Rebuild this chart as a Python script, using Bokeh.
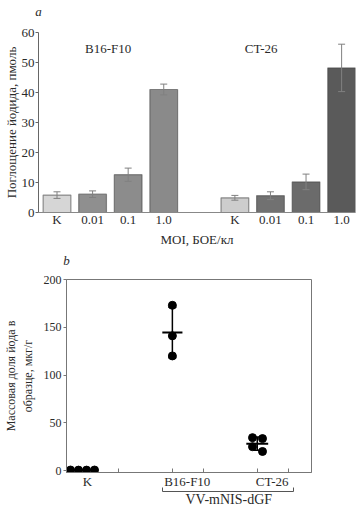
from bokeh.plotting import figure
from bokeh.models import (ColumnDataSource, FixedTicker, Whisker, TeeHead, Label,
                          Range1d, LinearAxis, Title)
from bokeh.embed import file_html
from bokeh.resources import INLINE

# ---------------- data: panel a ----------------
moi_labels = ["K", "0.01", "0.1", "1.0"]
b16_uptake = [5.8, 6.1, 12.6, 41.0]
b16_err = [1.1, 1.1, 2.2, 1.8]
ct26_uptake = [4.9, 5.6, 10.2, 48.2]
ct26_err = [0.8, 1.3, 2.6, 7.9]
cell_lines = ["B16-F10", "CT-26"]

# ---------------- data: panel b ----------------
groups_b = ["K", "B16-F10", "CT-26"]
k_iodine = [0.6, 0.5, 0.5, 0.6]
b16_iodine = [173, 141, 120]
ct26_iodine = [34.5, 33.5, 25, 20]
mean_iodine = [0.5, 144.5, 28.2]
sd_iodine = [0.1, 26.5, 7.0]
bracket_label = "VV-mNIS-dGF"
panel_letters = ["a", "b"]

FONT = "Liberation Serif"
TXT = "#2a2a2a"


def letter_axis(pos, letter, standoff):
    """Invisible axis above the frame carrying the panel letter as its only label."""
    return LinearAxis(ticker=FixedTicker(ticks=[pos], minor_ticks=[]),
                      major_label_overrides={pos: letter},
                      major_label_text_font=FONT, major_label_text_font_size="13px",
                      major_label_text_font_style="italic",
                      major_label_text_color=TXT,
                      major_label_standoff=standoff,
                      major_tick_in=0, major_tick_out=0,
                      minor_tick_in=0, minor_tick_out=0,
                      major_tick_line_color=None, minor_tick_line_color=None,
                      axis_line_color=None)


# ---------------- panel a ----------------
pos_b16 = [0, 1, 2, 3]
pos_ct = [5, 6, 7, 8]
colors_b16 = ["#d6d6d6", "#8f8f8f", "#8c8c8c", "#8a8a8a"]
colors_ct = ["#cdcdcd", "#717171", "#6b6b6b", "#5a5a5a"]

xs = pos_b16 + pos_ct
tops = b16_uptake + ct26_uptake
errs = b16_err + ct26_err
src_a = ColumnDataSource(dict(
    x=xs, top=tops,
    upper=[t + e for t, e in zip(tops, errs)],
    lower=[t - e for t, e in zip(tops, errs)],
    color=colors_b16 + colors_ct,
))

xa0, xa1 = -0.52, 8.39
pa = figure(frame_width=317, frame_height=180,
            x_range=Range1d(xa0, xa1), y_range=Range1d(0, 60),
            output_backend="svg", toolbar_location=None,
            min_border_left=36, min_border_right=2, min_border_top=30,
            min_border_bottom=30)
pa.outline_line_color = None
pa.xgrid.visible = False
pa.ygrid.visible = False

pa.vbar(x="x", top="top", width=0.78, fill_color="color",
        line_color="#3f3f3f", line_alpha=0.55, line_width=1.2, source=src_a)
pa.add_layout(Whisker(base="x", upper="upper", lower="lower", source=src_a,
                      line_color="#808080", line_width=1, level="overlay",
                      upper_head=TeeHead(size=7, line_color="#808080", line_width=1),
                      lower_head=TeeHead(size=7, line_color="#808080", line_width=1)))

ya = pa.yaxis[0]
ya.ticker = FixedTicker(ticks=[0, 10, 20, 30, 40, 50, 60])
ya.minor_tick_line_color = None
ya.major_tick_out = 3
ya.major_tick_in = 0
ya.major_label_standoff = 1
ya.axis_line_color = "#666666"
ya.major_tick_line_color = "#666666"
ya.axis_label = "Поглощение йодида, пмоль"
ya.axis_label_standoff = 0

xa = pa.xaxis[0]
xa.ticker = FixedTicker(ticks=xs)
xa.major_label_overrides = {p: l for p, l in zip(xs, moi_labels + moi_labels)}
xa.major_tick_out = 0
xa.major_tick_in = 0
xa.minor_tick_line_color = None
xa.axis_line_color = "#888888"
xa.major_label_standoff = -1
xa.axis_label = "MOI, БОЕ/кл"
xa.axis_label_standoff = 2

for ax in (xa, ya):
    ax.major_label_text_font = FONT
    ax.major_label_text_font_size = "13px"
    ax.major_label_text_color = TXT
    ax.axis_label_text_font = FONT
    ax.axis_label_text_font_size = "13px"
    ax.axis_label_text_font_style = "normal"
    ax.axis_label_text_color = TXT

for name, xc in zip(cell_lines, [1.44, 5.74]):
    pa.add_layout(Label(x=xc, y=54.7, text=name, text_font=FONT, text_font_size="13px",
                        text_align="center", text_baseline="middle", text_color=TXT))

pa.add_layout(letter_axis(xa0, panel_letters[0], 14), "above")

# ---------------- panel b ----------------
xb0, xb1 = 0.82, 3.62
pb = figure(frame_width=245, frame_height=193,
            x_range=Range1d(xb0, xb1), y_range=Range1d(-2, 200),
            output_backend="svg", toolbar_location=None,
            min_border_left=66, min_border_right=5, min_border_top=29,
            min_border_bottom=4)
pb.outline_line_color = "#777777"
pb.outline_line_width = 1
pb.xgrid.visible = False
pb.ygrid.visible = False

base_x = [1.0, 2.03, 3.0]
k_off = [-0.134, -0.043, 0.049, 0.14]
ct_off = [-0.054, 0.06, -0.054, 0.06]
pt_x = ([base_x[0] + o for o in k_off] + [base_x[1]] * len(b16_iodine)
        + [base_x[2] + o for o in ct_off])
pt_y = k_iodine + b16_iodine + ct26_iodine
pb.scatter(pt_x, pt_y, size=8, color="black")

half_w = [0.14, 0.115, 0.125]
pb.segment(x0=[b - h for b, h in zip(base_x, half_w)], y0=mean_iodine,
           x1=[b + h for b, h in zip(base_x, half_w)], y1=mean_iodine,
           line_color="black", line_width=2)
src_b = ColumnDataSource(dict(
    x=base_x,
    upper=[m + s for m, s in zip(mean_iodine, sd_iodine)],
    lower=[m - s for m, s in zip(mean_iodine, sd_iodine)],
))
pb.add_layout(Whisker(base="x", upper="upper", lower="lower", source=src_b,
                      line_color="black", line_width=1.5, level="overlay",
                      upper_head=TeeHead(size=8, line_color="black", line_width=1.5),
                      lower_head=TeeHead(size=8, line_color="black", line_width=1.5)))

label_pos = [1.06, 2.2, 3.17]
xb = pb.xaxis[0]
xb.ticker = FixedTicker(ticks=label_pos, minor_ticks=[1.41, 2.03, 2.39, 3.0, 3.36])
xb.major_label_overrides = {p: l for p, l in zip(label_pos, groups_b)}
xb.major_tick_in = 0
xb.major_tick_out = 0
xb.minor_tick_in = 4
xb.minor_tick_out = 0
xb.minor_tick_line_color = "#777777"
xb.axis_line_color = "#777777"
xb.major_label_standoff = 1

yb = pb.yaxis[0]
yb.ticker = FixedTicker(ticks=[0, 50, 100, 150, 200])
yb.minor_tick_line_color = None
yb.major_tick_out = 3
yb.major_tick_in = 0
yb.major_tick_line_color = "#777777"
yb.axis_line_color = "#777777"
yb.major_label_standoff = 2
yb.axis_label = "Массовая доля йода в\nобразце, мкг/г"
yb.axis_label_standoff = 6

for ax in (xb, yb):
    ax.major_label_text_font = FONT
    ax.major_label_text_color = TXT
    ax.axis_label_text_font = FONT
    ax.axis_label_text_font_size = "12px"
    ax.axis_label_text_font_style = "normal"
    ax.axis_label_text_color = TXT
xb.major_label_text_font_size = "13px"
yb.major_label_text_font_size = "12px"

# bracket grouping B16-F10 and CT-26
bracket = LinearAxis(bounds=(1.917, 3.414),
                     ticker=FixedTicker(ticks=[], minor_ticks=[1.917, 3.414]),
                     minor_tick_in=4, minor_tick_out=0,
                     major_tick_in=0, major_tick_out=0,
                     minor_tick_line_color="#555555",
                     major_tick_line_color=None,
                     axis_line_color="#555555")
pb.add_layout(bracket, "below")
pb.add_layout(Title(text=bracket_label, text_font=FONT, text_font_size="14px",
                    text_font_style="normal", text_color=TXT, align="left",
                    vertical_align="top", offset=119, standoff=0), "below")

pb.add_layout(letter_axis(xb0, panel_letters[1], 12), "above")

open("out.html", "w").write(file_html([pa, pb], INLINE))
